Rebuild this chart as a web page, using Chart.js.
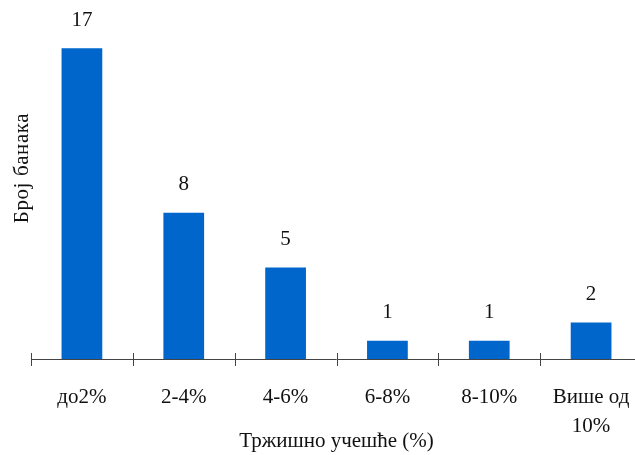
<!DOCTYPE html>
<html>
<head>
<meta charset="utf-8">
<script src="https://cdn.jsdelivr.net/npm/chart.js@4"></script>
<style>
  html, body { margin: 0; padding: 0; background: #fff; overflow: hidden; }
  #myChart { display: block; }
</style>
</head>
<body>
<canvas id="myChart" width="642" height="455"></canvas>
<script>
const categories = ["до2%", "2-4%", "4-6%", "6-8%", "8-10%", ["Више од", "10%"]];
const bankCounts = [17, 8, 5, 1, 1, 2];
const xTitle = "Тржишно учешће (%)";
const yTitle = "Број банака";

const serif = "'Liberation Serif', 'Times New Roman', serif";
const barColor = "#0066CC";

// labels over bars, crossing tick marks, rotated y title
const extras = {
  id: "extras",
  afterDatasetsDraw(chart) {
    const ctx = chart.ctx;
    const meta = chart.getDatasetMeta(0);
    ctx.save();
    ctx.fillStyle = "#111";
    ctx.font = "21px " + serif;
    ctx.textAlign = "center";
    ctx.textBaseline = "middle";
    meta.data.forEach((bar, i) => {
      ctx.fillText(String(bankCounts[i]), bar.x, bar.y - 28);
    });

    const xs = chart.scales.x;
    const y0 = xs.top;
    const step = xs.width / categories.length;
    ctx.strokeStyle = "#444";
    ctx.lineWidth = 1;
    ctx.beginPath();
    ctx.moveTo(xs.left, y0 + 0.5);
    ctx.lineTo(xs.right, y0 + 0.5);
    for (let i = 0; i <= categories.length; i++) {
      const x = Math.round(xs.left + i * step) + 0.5;
      ctx.moveTo(x, y0 - 6);
      ctx.lineTo(x, y0 + 7);
    }
    ctx.stroke();

    ctx.font = "21px " + serif;
    ctx.letterSpacing = "0.6px";
    ctx.translate(22, 168);
    ctx.rotate(-Math.PI / 2);
    ctx.fillText(yTitle, 0, 0);
    ctx.restore();
  }
};

const ctx = document.getElementById("myChart").getContext("2d");
new Chart(ctx, {
  type: "bar",
  data: {
    labels: categories,
    datasets: [
      {
        label: "Број банака",
        data: bankCounts,
        backgroundColor: barColor,
        borderWidth: 0,
        barPercentage: 0.4,
        categoryPercentage: 1,
      },
    ],
  },
  options: {
    responsive: false,
    animation: false,
    layout: { padding: { left: 31, top: 30, right: 0, bottom: 0 } },
    plugins: { legend: { display: false }, tooltip: { enabled: false } },
    scales: {
      x: {
        grid: { display: false, drawTicks: false },
        border: { display: false },
        ticks: {
          color: "#111",
          padding: 24,
          maxRotation: 0,
          autoSkip: false,
          font: { family: serif, size: 21, lineHeight: 1.38 },
        },
        title: {
          display: true,
          text: xTitle,
          color: "#111",
          font: { family: serif, size: 21 },
          padding: { top: 0, bottom: 1 },
        },
        afterFit: (s) => {
          s.height = 96;
          s.paddingLeft = 0;
          s.paddingRight = 0;
        },
      },
      y: {
        display: false,
        min: 0,
        max: 18,
      },
    },
  },
  plugins: [extras],
});
</script>
</body>
</html>
